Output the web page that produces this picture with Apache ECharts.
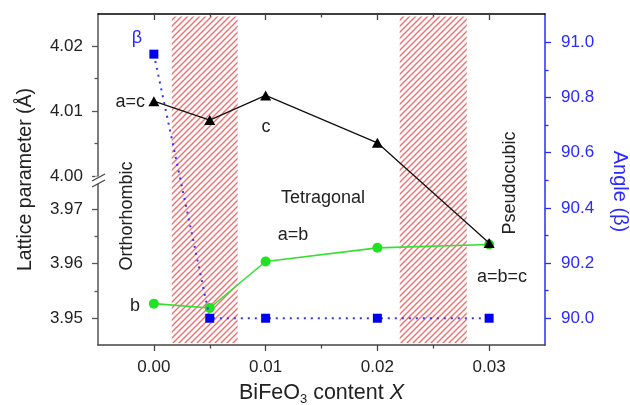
<!DOCTYPE html>
<html><head><meta charset="utf-8">
<script src="https://cdn.jsdelivr.net/npm/echarts@6/dist/echarts.min.js"></script>
<style>html,body{margin:0;padding:0;background:#fff}#c{width:630px;height:405px}</style>
</head><body><div id="c"></div>
<script>
// ---- data ----
const xValues = [0.00, 0.005, 0.01, 0.02, 0.03];
const cLattice = [4.0115, 4.0086, 4.0124, 4.0051, 3.9638];   // a=c / c (triangles)
const bLattice = [3.9527, 3.9519, 3.9604, 3.9629, 3.9635];   // b / a=b (circles)
const betaAngle = [90.957, 90.0, 90.0, 90.0, 90.0];          // beta (squares)
const xTicks = [0.00, 0.01, 0.02, 0.03];
const xMinorTicks = [0.005, 0.015, 0.025];
const latticeTicks = [3.95, 3.96, 3.97, 4.00, 4.01, 4.02];
const latticeMinorTicks = [3.955, 3.965, 4.005, 4.015];
const angleTicks = [90.0, 90.2, 90.4, 90.6, 90.8, 91.0];
const angleMinorTicks = [90.1, 90.3, 90.5, 90.7, 90.9];
const hatchRanges = [[0.0016, 0.0075], [0.022, 0.028]];

// ---- broken-axis transform (upper segment 4.00-4.02, lower 3.95-3.97) ----
const BREAK_LOW = 3.97, BREAK_HIGH = 4.00;
const BREAK_GAP = 33 / 6500;
const LOWER_SCALE = 5470 / 6500;
const LOW_TOP = BREAK_HIGH - BREAK_GAP;
function toAxis(v) { return v >= 3.985 ? v : LOW_TOP - (BREAK_LOW - v) * LOWER_SCALE; }
function fromAxis(t) { return t >= LOW_TOP + BREAK_GAP / 2 ? t : BREAK_LOW - (LOW_TOP - t) / LOWER_SCALE; }

const Y_MIN = 3.974, Y_MAX = 4.02492;
const A_MIN = 89.903, A_MAX = 91.1025;
const X_MIN = -0.005, X_MAX = 0.035;

const FONT = '"Liberation Sans", Arial, Helvetica, sans-serif';
const BLUE = '#2a2aff';

// hatch pattern
const tile = document.createElement('canvas');
tile.width = 6; tile.height = 6;
(function () {
  const g = tile.getContext('2d');
  g.strokeStyle = '#f26d6d'; g.lineWidth = 1.4;
  g.beginPath();
  g.moveTo(0, 6); g.lineTo(6, 0);
  g.moveTo(-3, 3); g.lineTo(3, -3);
  g.moveTo(3, 9); g.lineTo(9, 3);
  g.stroke();
})();

const chart = echarts.init(document.getElementById('c'), null, { renderer: 'canvas' });
const gridPos = { left: 98, right: 85, top: 14, bottom: 60, containLabel: false, outerBoundsMode: 'none' };

const option = {
  animation: false,
  backgroundColor: '#fff',
  textStyle: { fontFamily: FONT },
  grid: [Object.assign({}, gridPos), Object.assign({}, gridPos)],
  xAxis: [
    {
      type: 'value', gridIndex: 0, position: 'bottom', min: X_MIN, max: X_MAX,
      axisLine: { show: true, onZero: false, lineStyle: { color: '#444', width: 1.5 } },
      axisTick: { show: true, inside: false, length: 6, customValues: xTicks, lineStyle: { color: '#444', width: 1.3 } },
      axisLabel: { show: true, customValues: xTicks, color: '#222', fontSize: 17, fontFamily: FONT, margin: 14,
        formatter: v => v.toFixed(2) },
      splitLine: { show: false },
      name: 'BiFeO{sub|3} content {it|X}', nameLocation: 'middle', nameGap: 35,
      nameTextStyle: { color: '#222', fontSize: 21.5, fontFamily: FONT,
        rich: { sub: { fontSize: 13, fontFamily: FONT, color: '#222', padding: [13, 0, 0, 0] },
                it: { fontSize: 21.5, fontStyle: 'italic', fontFamily: FONT, color: '#222' } } }
    },
    {
      type: 'value', gridIndex: 0, position: 'top', min: X_MIN, max: X_MAX,
      axisLine: { show: true, onZero: false, lineStyle: { color: '#000', width: 1.5 } },
      axisTick: { show: true, inside: true, length: 6, customValues: xTicks, lineStyle: { color: '#444', width: 1.3 } },
      axisLabel: { show: false }, splitLine: { show: false }
    },
    {
      type: 'value', gridIndex: 1, position: 'bottom', min: X_MIN, max: X_MAX,
      axisLine: { show: false, onZero: false },
      axisTick: { show: true, inside: false, length: 3.5, customValues: xMinorTicks, lineStyle: { color: '#444', width: 1.3 } },
      axisLabel: { show: false }, splitLine: { show: false }
    },
    {
      type: 'value', gridIndex: 1, position: 'top', min: X_MIN, max: X_MAX,
      axisLine: { show: false, onZero: false },
      axisTick: { show: true, inside: true, length: 3.5, customValues: xMinorTicks, lineStyle: { color: '#444', width: 1.3 } },
      axisLabel: { show: false }, splitLine: { show: false }
    }
  ],
  yAxis: [
    {
      type: 'value', gridIndex: 0, position: 'left', min: Y_MIN, max: Y_MAX,
      axisLine: { show: true, onZero: false, lineStyle: { color: '#555', width: 1.5 } },
      axisTick: { show: true, inside: false, length: 6, customValues: latticeTicks.map(toAxis), lineStyle: { color: '#555', width: 1.3 } },
      axisLabel: { show: true, customValues: latticeTicks.map(toAxis), color: '#222', fontSize: 17, fontFamily: FONT, margin: 15,
        formatter: v => fromAxis(v).toFixed(2) },
      splitLine: { show: false },
      name: 'Lattice parameter (Å)', nameLocation: 'middle', nameGap: 62, nameRotate: 90,
      nameTextStyle: { color: '#222', fontSize: 19.5, fontFamily: FONT }
    },
    {
      type: 'value', gridIndex: 0, position: 'right', min: A_MIN, max: A_MAX,
      axisLine: { show: true, onZero: false, lineStyle: { color: BLUE, width: 1.5 } },
      axisTick: { show: true, inside: false, length: 6, customValues: angleTicks, lineStyle: { color: BLUE, width: 1.3 } },
      axisLabel: { show: true, customValues: angleTicks, color: BLUE, fontSize: 17, fontFamily: FONT, margin: 16,
        formatter: v => v.toFixed(1) },
      splitLine: { show: false },
      name: 'Angle (β)', nameLocation: 'middle', nameGap: 65, nameRotate: -90,
      nameTextStyle: { color: BLUE, fontSize: 20, fontFamily: FONT, padding: [0, 0, 0, 24] }
    },
    {
      type: 'value', gridIndex: 1, position: 'left', min: Y_MIN, max: Y_MAX,
      axisLine: { show: false, onZero: false },
      axisTick: { show: true, inside: false, length: 3.5, customValues: latticeMinorTicks.map(toAxis), lineStyle: { color: '#555', width: 1.3 } },
      axisLabel: { show: false }, splitLine: { show: false }
    },
    {
      type: 'value', gridIndex: 1, position: 'right', min: A_MIN, max: A_MAX,
      axisLine: { show: false, onZero: false },
      axisTick: { show: true, inside: false, length: 3.5, customValues: angleMinorTicks, lineStyle: { color: BLUE, width: 1.3 } },
      axisLabel: { show: false }, splitLine: { show: false }
    }
  ],
  series: [
    {
      name: 'hatch', type: 'line', xAxisIndex: 0, yAxisIndex: 0, data: [], silent: true,
      markArea: {
        silent: true,
        itemStyle: { color: { image: tile, repeat: 'repeat' }, borderWidth: 0 },
        data: hatchRanges.map(r => [{ xAxis: r[0], yAxis: Y_MIN + 0.0003 }, { xAxis: r[1], yAxis: Y_MAX - 0.0004 }])
      },
      z: 1
    },
    {
      name: 'b', type: 'line', xAxisIndex: 0, yAxisIndex: 0,
      data: xValues.map((x, i) => [x, toAxis(bLattice[i])]),
      symbol: 'circle', symbolSize: 10,
      itemStyle: { color: '#22e022' }, lineStyle: { color: '#33e033', width: 1.6 }, z: 3
    },
    {
      name: 'c', type: 'line', xAxisIndex: 0, yAxisIndex: 0,
      data: xValues.map((x, i) => [x, toAxis(cLattice[i])]),
      symbol: 'triangle', symbolSize: [11, 10],
      itemStyle: { color: '#000' }, lineStyle: { color: '#111', width: 1.3 }, z: 4
    },
    {
      name: 'beta', type: 'line', xAxisIndex: 0, yAxisIndex: 1,
      data: xValues.map((x, i) => [x, betaAngle[i]]),
      symbol: 'rect', symbolSize: 9,
      itemStyle: { color: '#0000f0' }, lineStyle: { color: '#3535ff', width: 2, type: [2, 5] }, z: 5
    }
  ],
  graphic: [
    // axis break mark
    { type: 'rect', shape: { x: 95, y: 176.5, width: 7, height: 7.5 }, style: { fill: '#fff' }, z: 100 },
    { type: 'line', shape: { x1: 92, y1: 181, x2: 105, y2: 174 }, style: { stroke: '#444', lineWidth: 1.3 }, z: 101 },
    { type: 'line', shape: { x1: 92, y1: 187, x2: 105, y2: 180 }, style: { stroke: '#444', lineWidth: 1.3 }, z: 101 },
    // annotations
    { type: 'text', x: 137, y: 38, style: { text: 'β', fill: BLUE, font: '18px ' + FONT, align: 'center', verticalAlign: 'middle' }, z: 50 },
    { type: 'text', x: 145, y: 102, style: { text: 'a=c', fill: '#222', font: '18px ' + FONT, align: 'right', verticalAlign: 'middle' }, z: 50 },
    { type: 'text', x: 266, y: 127, style: { text: 'c', fill: '#222', font: '18px ' + FONT, align: 'center', verticalAlign: 'middle' }, z: 50 },
    { type: 'text', x: 135, y: 306, style: { text: 'b', fill: '#222', font: '18px ' + FONT, align: 'center', verticalAlign: 'middle' }, z: 50 },
    { type: 'text', x: 127, y: 216, rotation: Math.PI / 2, style: { text: 'Orthorhombic', fill: '#222', font: '18px ' + FONT, align: 'center', verticalAlign: 'middle' }, z: 50 },
    { type: 'text', x: 323, y: 198, style: { text: 'Tetragonal', fill: '#222', font: '18px ' + FONT, align: 'center', verticalAlign: 'middle' }, z: 50 },
    { type: 'text', x: 293, y: 235, style: { text: 'a=b', fill: '#222', font: '18px ' + FONT, align: 'center', verticalAlign: 'middle' }, z: 50 },
    { type: 'text', x: 510, y: 183, rotation: Math.PI / 2, style: { text: 'Pseudocubic', fill: '#222', font: '18px ' + FONT, align: 'center', verticalAlign: 'middle' }, z: 50 },
    { type: 'text', x: 502, y: 277, style: { text: 'a=b=c', fill: '#222', font: '18px ' + FONT, align: 'center', verticalAlign: 'middle' }, z: 50 }
  ]
};
chart.setOption(option);
</script>
</body></html>
